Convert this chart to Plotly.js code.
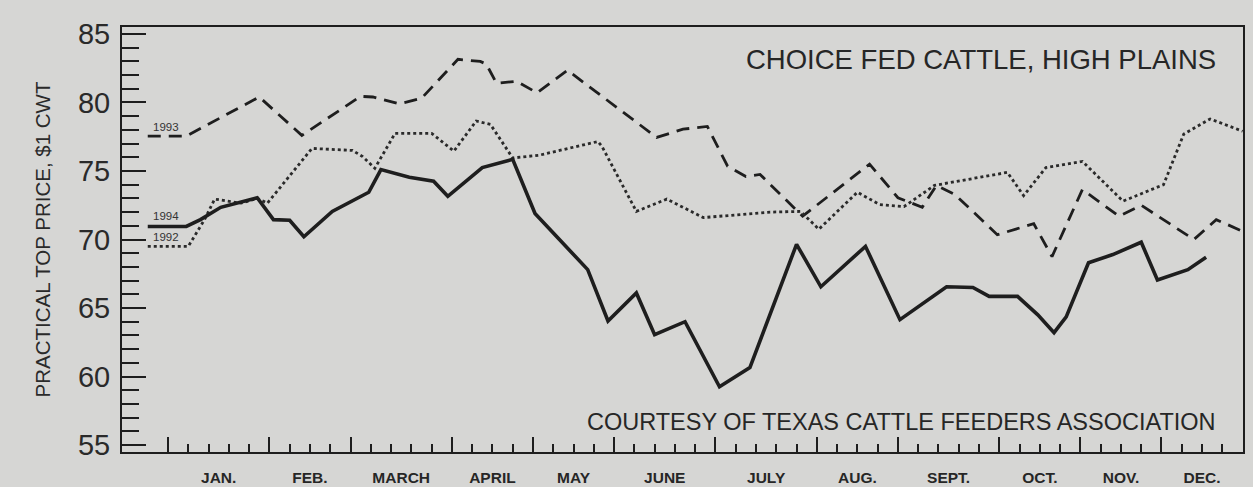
<!DOCTYPE html>
<html>
<head>
<meta charset="utf-8">
<script src="https://cdn.plot.ly/plotly-3.0.1.min.js"></script>
<style>
  html, body { margin: 0; padding: 0; background: #d6d6d4; }
  #chart { width: 1253px; height: 487px; }
</style>
</head>
<body>
<div id="chart"></div>
<script>
// ---- Data: x = week of the year, y = $/cwt ----
const weeks1994 = [-1.0, 0.9, 1.6, 2.6, 4.4, 5.2, 6.0, 6.7, 8.1, 9.9, 10.5, 11.9, 13.1, 13.8, 15.5, 17.0, 18.1, 20.7, 21.7, 23.1, 24.0, 25.5, 27.2, 28.7, 31.0, 32.2, 34.4, 36.1, 38.4, 39.7, 40.5, 41.9, 42.9, 43.7, 44.3, 45.4, 46.6, 48.0, 48.8, 50.3, 51.2];
const price1994 = [70.95, 70.95, 71.45, 72.35, 73.05, 71.45, 71.4, 70.2, 72.05, 73.45, 75.1, 74.55, 74.25, 73.15, 75.25, 75.85, 71.9, 67.8, 64.05, 66.1, 63.05, 64.0, 59.25, 60.65, 69.65, 66.55, 69.5, 64.15, 66.55, 66.5, 65.85, 65.85, 64.5, 63.2, 64.35, 68.3, 68.9, 69.8, 67.05, 67.8, 68.7];

const weeks1993 = [-1.0, 0.9, 4.5, 6.6, 9.5, 10.1, 11.4, 12.5, 14.3, 15.4, 15.7, 16.2, 17.2, 18.2, 19.7, 24.1, 25.4, 26.6, 27.6, 28.5, 29.2, 31.3, 34.6, 36.0, 37.2, 37.9, 38.8, 40.9, 42.7, 43.6, 45.1, 46.9, 48.0, 50.6, 51.7, 53.0];
const price1993 = [77.55, 77.55, 80.4, 77.6, 80.45, 80.4, 79.9, 80.3, 83.15, 83.0, 82.8, 81.4, 81.55, 80.7, 82.35, 77.45, 78.05, 78.25, 75.35, 74.6, 74.75, 71.7, 75.5, 73.05, 72.35, 73.95, 73.3, 70.35, 71.15, 68.75, 73.65, 71.7, 72.5, 70.0, 71.45, 70.6];

const weeks1992 = [-1.0, 1.0, 1.8, 2.3, 3.6, 4.4, 4.9, 7.1, 9.1, 9.6, 10.2, 11.2, 13.0, 14.1, 15.2, 15.9, 17.0, 18.3, 21.2, 21.4, 23.1, 24.6, 26.4, 29.7, 31.2, 32.1, 34.0, 35.1, 36.3, 37.8, 41.4, 42.2, 43.3, 45.1, 47.1, 49.1, 50.1, 51.4, 53.0];
const price1992 = [69.5, 69.5, 71.45, 72.95, 72.65, 73.0, 72.65, 76.65, 76.5, 76.05, 75.2, 77.75, 77.75, 76.45, 78.65, 78.4, 75.95, 76.15, 77.15, 76.8, 72.05, 72.95, 71.6, 72.0, 72.05, 70.75, 73.45, 72.55, 72.4, 73.95, 74.9, 73.2, 75.25, 75.7, 72.8, 74.0, 77.7, 78.8, 77.9];

const monthNames = ['JAN.', 'FEB.', 'MARCH', 'APRIL', 'MAY', 'JUNE', 'JULY', 'AUG.', 'SEPT.', 'OCT.', 'NOV.', 'DEC.'];
const weeksPerMonth = [5, 4, 5, 4, 4, 5, 5, 4, 5, 4, 4, 4];
const yTickVals = [55, 60, 65, 70, 75, 80, 85];

// ---- Derived tick positions ----
const monthBounds = [0];
weeksPerMonth.forEach(n => monthBounds.push(monthBounds[monthBounds.length - 1] + n));
const monthCenters = monthNames.map((m, i) => (monthBounds[i] + monthBounds[i + 1]) / 2);
const weekTicks = [];
for (let w = 0; w <= monthBounds[monthBounds.length - 1]; w++) weekTicks.push(w);

const ink = '#1e1e1e';
const FONT = 'Liberation Sans, Arial, sans-serif';
const xRange = [-2.27, 53.02];

const traces = [
  { x: weeks1993, y: price1993, mode: 'lines', name: '1993',
    line: { color: ink, width: 2.8, dash: '13px,8px' }, hoverinfo: 'x+y' },
  { x: weeks1992, y: price1992, mode: 'lines', name: '1992',
    line: { color: '#2a2a2a', width: 2.8, dash: '3px,3px' }, hoverinfo: 'x+y' },
  { x: weeks1994, y: price1994, mode: 'lines', name: '1994',
    line: { color: ink, width: 3.6 }, hoverinfo: 'x+y' },
  { x: [], y: [], xaxis: 'x2', yaxis: 'y', mode: 'lines', showlegend: false, hoverinfo: 'skip' }
];

const layout = {
  width: 1253, height: 487,
  margin: { l: 122, r: 10, t: 27, b: 35 },
  paper_bgcolor: '#d6d6d4',
  plot_bgcolor: '#d6d6d4',
  showlegend: false,
  font: { family: FONT, color: '#262626' },
  xaxis: {
    range: xRange,
    showline: true, mirror: true, linewidth: 2, linecolor: ink,
    showgrid: false, zeroline: false,
    tickmode: 'array', tickvals: monthBounds,
    ticks: 'inside', ticklen: 15, tickwidth: 2, tickcolor: ink,
    showticklabels: false,
    minor: { tickmode: 'array', tickvals: weekTicks, ticks: 'inside', ticklen: 8, tickwidth: 2, tickcolor: ink, showgrid: false }
  },
  xaxis2: {
    overlaying: 'x', anchor: 'y', side: 'bottom',
    range: xRange,
    showline: false, showgrid: false, zeroline: false,
    tickmode: 'array', tickvals: monthCenters, ticktext: monthNames,
    ticks: '', ticklabelstandoff: 14,
    tickfont: { family: FONT, size: 15.5, color: '#262626', weight: 'bold' }
  },
  yaxis: {
    range: [54.49, 85.51],
    showline: true, mirror: true, linewidth: 2, linecolor: ink,
    showgrid: false, zeroline: false,
    tickmode: 'array', tickvals: yTickVals,
    ticks: 'inside', ticklen: 24, tickwidth: 2, tickcolor: ink,
    ticklabelstandoff: 4,
    tickfont: { family: FONT, size: 29, color: '#2a2a2a' },
    minor: { tick0: 55, dtick: 1, ticks: 'inside', ticklen: 17, tickwidth: 2, tickcolor: ink, showgrid: false },
    title: { text: 'PRACTICAL TOP PRICE, $1 CWT', standoff: 22,
             font: { family: FONT, size: 20.5, color: '#2a2a2a' } }
  },
  annotations: [
    { text: 'CHOICE FED CATTLE, HIGH PLAINS', xref: 'paper', yref: 'paper',
      x: 0.9777, y: 0.9245, xanchor: 'right', yanchor: 'middle', showarrow: false,
      font: { family: FONT, size: 27.5, color: '#262626' } },
    { text: 'COURTESY OF TEXAS CATTLE FEEDERS ASSOCIATION', xref: 'paper', yref: 'paper',
      x: 0.9777, y: 0.0708, xanchor: 'right', yanchor: 'middle', showarrow: false,
      font: { family: FONT, size: 23.5, color: '#262626' } },
    { text: '1993', x: -0.1, y: 78.2, xref: 'x', yref: 'y', showarrow: false,
      font: { family: FONT, size: 11.5, color: '#333' } },
    { text: '1994', x: -0.1, y: 71.75, xref: 'x', yref: 'y', showarrow: false,
      font: { family: FONT, size: 11.5, color: '#333' } },
    { text: '1992', x: -0.1, y: 70.2, xref: 'x', yref: 'y', showarrow: false,
      font: { family: FONT, size: 11.5, color: '#333' } }
  ]
};

Plotly.newPlot('chart', traces, layout, { displayModeBar: false, staticPlot: true });
</script>
</body>
</html>
